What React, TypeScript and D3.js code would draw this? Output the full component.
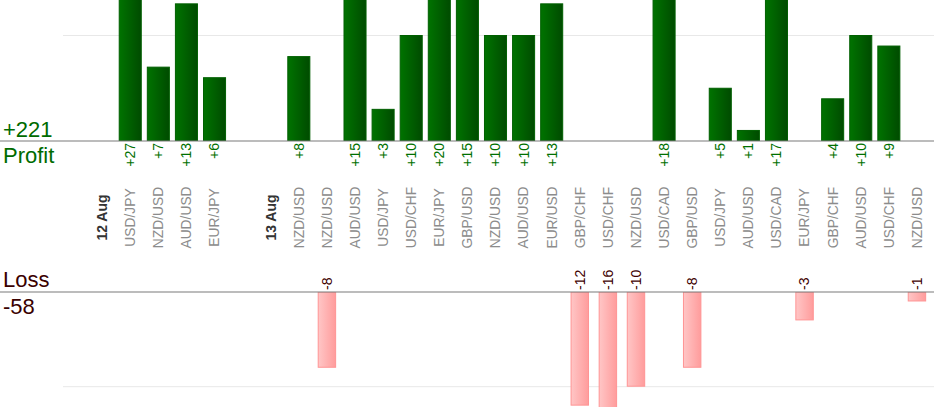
import React from 'react';
import * as d3 from 'd3';

// trades in order, grouped by day
const days = ['12 Aug', '13 Aug'];
const pairs12 = ['USD/JPY', 'NZD/USD', 'AUD/USD', 'EUR/JPY'];
const pnl12 = [27, 7, 13, 6];
const pairs13 = [
  'NZD/USD', 'NZD/USD', 'AUD/USD', 'USD/JPY', 'USD/CHF', 'EUR/JPY', 'GBP/USD', 'NZD/USD',
  'AUD/USD', 'EUR/USD', 'GBP/CHF', 'USD/CHF', 'NZD/USD', 'USD/CAD', 'GBP/USD', 'USD/JPY',
  'AUD/USD', 'USD/CAD', 'EUR/JPY', 'GBP/CHF', 'AUD/USD', 'USD/CHF', 'NZD/USD',
];
const pnl13 = [8, -8, 15, 3, 10, 20, 15, 10, 10, 13, -12, -16, -10, 18, -8, 5, 1, 17, -3, 4, 10, 9, -1];

const W = 934;
const H = 420;
const FONT = '"Liberation Sans", Arial, sans-serif';

type Slot = { id: string; kind: 'blank' | 'day' | 'trade'; label: string; value: number };

function buildSlots(): Slot[] {
  const out: Slot[] = [];
  const groups = [
    { pairs: pairs12, pnl: pnl12 },
    { pairs: pairs13, pnl: pnl13 },
  ];
  groups.forEach((g, d) => {
    out.push({ id: `b${d}`, kind: 'blank', label: '', value: 0 });
    out.push({ id: `d${d}`, kind: 'day', label: days[d], value: 0 });
    g.pairs.forEach((p, i) => out.push({ id: `t${d}_${i}`, kind: 'trade', label: p, value: g.pnl[i] }));
  });
  return out;
}

export default function App() {
  const slots = buildSlots();
  const trades = slots.filter((s) => s.kind === 'trade');
  const totalProfit = d3.sum(trades, (s) => (s.value > 0 ? s.value : 0));
  const totalLoss = d3.sum(trades, (s) => (s.value < 0 ? s.value : 0));

  const x = d3
    .scaleBand<string>()
    .domain(slots.map((s) => s.id))
    .range([60, 931])
    .paddingInner(0.18)
    .paddingOuter(0.09);
  const bw = x.bandwidth();
  const cx = (id: string) => (x(id) ?? 0) + bw / 2;
  const lossW = bw * 0.8;

  const profitBase = 141;
  const lossBase = 292;
  const yProfit = d3.scaleLinear().domain([0, 10]).range([profitBase, 35.5]);
  const yLoss = d3.scaleLinear().domain([0, 10]).range([lossBase, 386.7]);

  const wins = trades.filter((s) => s.value > 0);
  const losses = trades.filter((s) => s.value < 0);

  return (
    <svg width={W} height={H} style={{ position: 'absolute', left: 0, top: 0 }} fontFamily={FONT}>
      <defs>
        <linearGradient id="gWin" x1="0" x2="1" y1="0" y2="0">
          <stop offset="0%" stopColor="#007300" />
          <stop offset="100%" stopColor="#004b00" />
        </linearGradient>
        <linearGradient id="gLoss" x1="0" x2="1" y1="0" y2="0">
          <stop offset="0%" stopColor="#ffc6c6" />
          <stop offset="100%" stopColor="#ff9c9c" />
        </linearGradient>
        <clipPath id="cWin">
          <rect x={0} y={0} width={W} height={profitBase} />
        </clipPath>
        <clipPath id="cLoss">
          <rect x={0} y={lossBase} width={W} height={407 - lossBase} />
        </clipPath>
      </defs>

      {/* grid lines */}
      <line x1={63} x2={W} y1={yProfit(10)} y2={yProfit(10)} stroke="#e8e8e8" />
      <line x1={63} x2={W} y1={yLoss(10)} y2={yLoss(10)} stroke="#e8e8e8" />

      {/* profit bars */}
      <g clipPath="url(#cWin)">
        {wins.map((s) => (
          <rect
            key={s.id}
            x={(x(s.id) ?? 0) + 0.5}
            y={yProfit(s.value)}
            width={bw - 1}
            height={profitBase - yProfit(s.value)}
            fill="url(#gWin)"
            stroke="#005f00"
            strokeWidth={1}
          />
        ))}
      </g>

      {/* loss bars */}
      <g clipPath="url(#cLoss)">
        {losses.map((s) => (
          <rect
            key={s.id}
            x={cx(s.id) - lossW / 2 + 0.5}
            y={lossBase}
            width={lossW - 1}
            height={yLoss(-s.value) - lossBase - 0.5}
            fill="url(#gLoss)"
            stroke="#ff9494"
            strokeWidth={1}
          />
        ))}
      </g>

      <line x1={0} x2={W} y1={profitBase} y2={profitBase} stroke="#7a7a7a" strokeWidth={1.2} />
      <line x1={0} x2={W} y1={lossBase} y2={lossBase} stroke="#7a7a7a" strokeWidth={1.2} />

      {/* totals */}
      <text x={3} y={137} fontSize={22} fill="#006b00">{`+${totalProfit}`}</text>
      <text x={3} y={163} fontSize={22} fill="#006b00">Profit</text>
      <text x={3} y={287} fontSize={22} fill="#3a0000">Loss</text>
      <text x={3} y={314} fontSize={22} fill="#3a0000">{`${totalLoss}`}</text>

      {/* value labels */}
      {wins.map((s) => (
        <text
          key={`v${s.id}`}
          transform={`translate(${cx(s.id)},${profitBase + 2}) rotate(-90)`}
          textAnchor="end"
          dy="0.35em"
          fontSize={14}
          fill="#007000"
        >
          {`+${s.value}`}
        </text>
      ))}
      {losses.map((s) => (
        <text
          key={`v${s.id}`}
          transform={`translate(${cx(s.id)},${lossBase - 2}) rotate(-90)`}
          textAnchor="start"
          dy="0.35em"
          fontSize={14}
          fill="#400000"
        >
          {`${s.value}`}
        </text>
      ))}

      {/* category labels */}
      {slots
        .filter((s) => s.kind !== 'blank')
        .map((s) => (
          <text
            key={`c${s.id}`}
            transform={`translate(${cx(s.id)},217.5) rotate(-90)`}
            textAnchor="middle"
            dy="0.35em"
            fontSize={s.kind === 'day' ? 14 : 13.8}
            fontWeight={s.kind === 'day' ? 'bold' : 'normal'}
            fill={s.kind === 'day' ? '#333333' : '#8c8c8c'}
          >
            {s.label}
          </text>
        ))}
    </svg>
  );
}
